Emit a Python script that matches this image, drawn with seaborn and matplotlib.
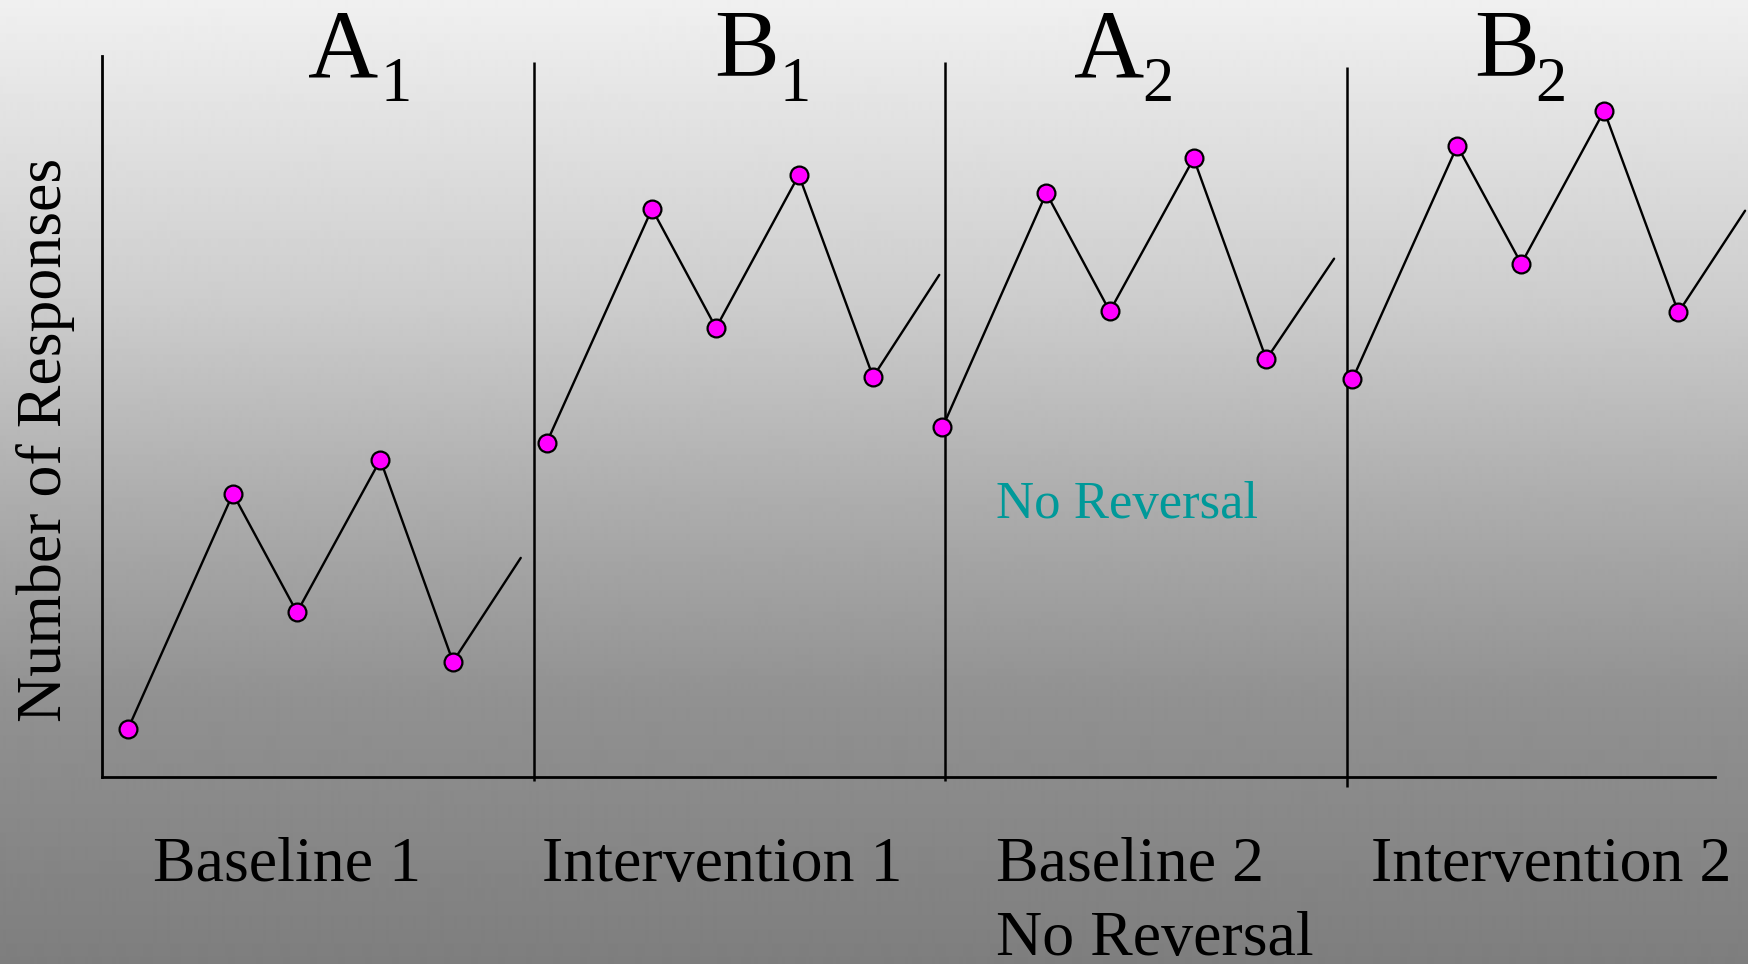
import numpy as np
import pandas as pd
import matplotlib
matplotlib.use("Agg")
import matplotlib.pyplot as plt
import seaborn as sns

# ---- data: four phases of an A-B-A-B design -------------------------------
phases = ["A1", "B1", "A2", "B2"]
phase_names = ["Baseline 1", "Intervention 1", "Baseline 2\nNo Reversal", "Intervention 2"]

# session positions (x) and number of responses (y) for each phase
a1_x = [0.49, 2.44, 3.63, 5.18, 6.53, 7.79]
a1_y = [1.33, 7.85, 4.56, 8.79, 3.19, 6.07]
b1_x = [8.27, 10.23, 11.42, 12.96, 14.34, 15.57]
b1_y = [9.26, 15.75, 12.45, 16.69, 11.09, 13.92]
a2_x = [15.63, 17.56, 18.74, 20.30, 21.65, 22.91]
a2_y = [9.69, 16.19, 12.91, 17.15, 11.58, 14.37]
b2_x = [23.25, 25.20, 26.39, 27.93, 29.31, 30.55]
b2_y = [11.02, 17.50, 14.23, 18.47, 12.88, 15.70]

# the last point of each phase is drawn as a trend end without a marker
has_marker = [True, True, True, True, True, False]

# phase-change lines (x) and their vertical extents (y)
phase_lines_x = [8.04, 15.68, 23.15]
phase_lines_top = [19.83, 19.83, 19.68]
phase_lines_bottom = [-0.13, -0.13, -0.29]

W, H = 1749, 964

df = pd.concat([
    pd.DataFrame({"session": x, "responses": y, "phase": p, "marker": has_marker})
    for p, x, y in zip(phases, [a1_x, b1_x, a2_x, b2_x], [a1_y, b1_y, a2_y, b2_y])
], ignore_index=True)

sns.set_theme(style="white")
plt.rcParams["font.family"] = ["Liberation Serif", "DejaVu Serif"]

fig = plt.figure(figsize=(W / 100, H / 100), dpi=100)

# slide-style vertical grey gradient behind everything
bg = fig.add_axes([0, 0, 1, 1], zorder=-10)
rows = np.arange(H)
shade = np.interp(rows, [0, 300, 500, 700, 964], [240, 205, 173, 145, 126]) / 255.0
grad = np.repeat(shade[:, None], 2, axis=1)
bg.imshow(grad, cmap="gray", vmin=0, vmax=1, aspect="auto", extent=[0, 1, 0, 1],
          interpolation="bilinear")
bg.set_axis_off()

ax = fig.add_axes([101.7 / W, (H - 776.7) / H, 1613.8 / W, 721 / H])
ax.set_facecolor("none")

sns.lineplot(data=df, x="session", y="responses", units="phase", estimator=None,
             sort=False, color="black", linewidth=1.7, ax=ax, legend=False)
sns.scatterplot(data=df[df["marker"]], x="session", y="responses", color="#ff00ff",
                edgecolor="black", linewidth=1.6, s=165, ax=ax, zorder=5,
                legend=False)
for ln in ax.lines:
    ln.set_clip_on(False)
for coll in ax.collections:
    coll.set_clip_on(False)

ax.vlines(phase_lines_x, phase_lines_bottom, phase_lines_top, color="black",
          linewidth=1.8, clip_on=False)

ax.set_xlim(0, 30)
ax.set_ylim(0, 20)
ax.set_xticks([])
ax.set_yticks([])
ax.set_xlabel("")
for side in ["top", "right"]:
    ax.spines[side].set_visible(False)
for side in ["left", "bottom"]:
    ax.spines[side].set_color("black")
    ax.spines[side].set_linewidth(2.0)

ax.set_ylabel("Number of Responses", fontsize=46, color="black",
              va="baseline", labelpad=0)
ax.yaxis.set_label_coords((61 - 101.7) / 1613.8, (776.7 - 440) / 721)


def fx(px):
    return px / W


def fy(py):
    return 1 - py / H


# phase titles with subscripts
title_letters = ["A", "B", "A", "B"]
title_subs = ["1", "1", "2", "2"]
letter_x = [308, 714, 1074, 1474]
sub_x = [380, 780, 1142, 1535]
for L, s, lx, sx in zip(title_letters, title_subs, letter_x, sub_x):
    fig.text(fx(lx), fy(76.7), L, fontsize=70, ha="left", va="baseline", color="black")
    fig.text(fx(sx), fy(100.7), s, fontsize=45, ha="left", va="baseline", color="black")

# phase names under the axis
name_x = [153, 542, 996, 1371]
for name, nx in zip(phase_names, name_x):
    lines = name.split("\n")
    for i, line in enumerate(lines):
        fig.text(fx(nx), fy(880.7 + 74 * i), line, fontsize=46, ha="left",
                 va="baseline", color="black")

fig.text(fx(996), fy(518), "No Reversal", fontsize=38, ha="left", va="baseline",
         color="#009999")

fig.savefig("out.png", dpi=100)
